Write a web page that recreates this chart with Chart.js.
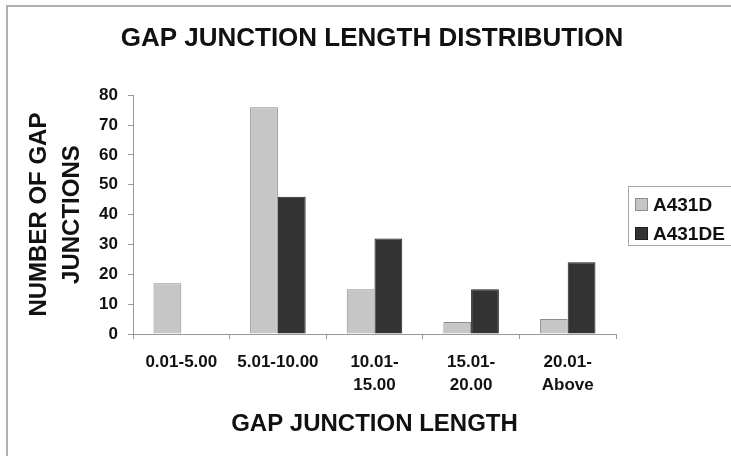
<!DOCTYPE html>
<html>
<head>
<meta charset="utf-8">
<style>
  html, body { margin: 0; padding: 0; background: #fff; }
  #wrap { position: relative; width: 731px; height: 456px; }
</style>
<script src="https://cdn.jsdelivr.net/npm/chart.js@4/dist/chart.umd.min.js"></script>
</head>
<body>
<div id="wrap"><canvas id="c" width="731" height="456"></canvas></div>
<script>
const categories = ['0.01-5.00', '5.01-10.00', ['10.01-', '15.00'], ['15.01-', '20.00'], ['20.01-', 'Above']];
const seriesNames = ['A431D', 'A431DE'];
const a431d = [17, 76, 15, 4, 5];
const a431de = [null, 46, 32, 15, 24];
const yTicks = [0, 10, 20, 30, 40, 50, 60, 70, 80];
const chartTitle = 'GAP JUNCTION LENGTH DISTRIBUTION';
const xTitle = 'GAP JUNCTION LENGTH';
const yTitle = ['NUMBER OF GAP', 'JUNCTIONS'];

const FONT = "'Liberation Sans', Arial, Helvetica, sans-serif";

const framePlugin = {
  id: 'frame',
  beforeDraw(chart) {
    const ctx = chart.ctx;
    ctx.save();
    ctx.fillStyle = '#fff';
    ctx.fillRect(0, 0, chart.width, chart.height);
    ctx.strokeStyle = '#b0b0b0';
    ctx.lineWidth = 2;
    ctx.strokeRect(7, 6, 900, 900);
    ctx.restore();
  }
};

const legendBoxPlugin = {
  id: 'legendBox',
  afterDraw(chart) {
    const ctx = chart.ctx;
    ctx.save();
    ctx.strokeStyle = '#a8a8a8';
    ctx.lineWidth = 1;
    ctx.strokeRect(628.5, 186.5, 103, 59);
    const rows = [204.5, 233.5];
    chart.data.datasets.forEach((ds, i) => {
      const y = rows[i];
      ctx.fillStyle = ds.backgroundColor;
      ctx.fillRect(635, y - 6.5, 13, 13);
      ctx.strokeStyle = ds.borderColor;
      ctx.strokeRect(635.5, y - 6, 12, 12);
      ctx.fillStyle = '#111';
      ctx.font = 'bold 19px ' + FONT;
      ctx.textAlign = 'left';
      ctx.textBaseline = 'middle';
      ctx.fillText(ds.label, 653, y + 1);
    });
    ctx.restore();
  }
};

new Chart(document.getElementById('c'), {
  type: 'bar',
  data: {
    labels: categories,
    datasets: [
      { label: seriesNames[0], data: a431d, backgroundColor: '#c6c6c6', borderColor: '#8c8c8c', borderWidth: 1 },
      { label: seriesNames[1], data: a431de, backgroundColor: '#333333', borderColor: '#1e1e1e', borderWidth: 1 }
    ]
  },
  options: {
    responsive: false,
    animation: false,
    devicePixelRatio: 1,
    layout: { padding: { left: 13, right: 0, top: 0, bottom: 0 } },
    datasets: { bar: { categoryPercentage: 0.575, barPercentage: 1.0 } },
    plugins: {
      legend: { display: false },
      tooltip: { enabled: false },
      title: {
        display: true,
        text: chartTitle,
        color: '#111',
        font: { family: FONT, size: 26, weight: 'bold', lineHeight: 1.2 },
        padding: { top: 23, bottom: 41 }
      }
    },
    scales: {
      x: {
        grid: { display: true, drawOnChartArea: false, drawTicks: true, tickLength: 5, color: '#999', offset: true },
        border: { display: true, color: '#999', width: 1 },
        ticks: {
          color: '#111',
          padding: 12,
          maxRotation: 0,
          autoSkip: false,
          font: { family: FONT, size: 17, weight: 'bold', lineHeight: '23px' }
        },
        title: {
          display: true,
          text: xTitle,
          color: '#111',
          font: { family: FONT, size: 24, weight: 'bold', lineHeight: 1.2 },
          padding: { top: 0, bottom: 17 }
        },
        afterFit(s) { s.height = 122; }
      },
      y: {
        min: 0,
        max: 80,
        afterBuildTicks(s) { s.ticks = yTicks.map(v => ({ value: v })); },
        grid: { display: true, drawOnChartArea: false, drawTicks: true, tickLength: 5, color: '#999' },
        border: { display: true, color: '#999', width: 1 },
        ticks: {
          color: '#111',
          padding: 10,
          font: { family: FONT, size: 17, weight: 'bold' }
        },
        title: {
          display: true,
          text: yTitle,
          color: '#111',
          font: { family: FONT, size: 24, weight: 'bold', lineHeight: '33px' },
          padding: { top: 10, bottom: 0 }
        },
        afterFit(s) { s.width = 120; }
      },
      rpad: {
        type: 'linear',
        position: 'right',
        display: true,
        grid: { display: false },
        border: { display: false },
        ticks: { display: false },
        afterFit(s) { s.width = 115; }
      }
    }
  },
  plugins: [framePlugin, legendBoxPlugin]
});
</script>
</body>
</html>
